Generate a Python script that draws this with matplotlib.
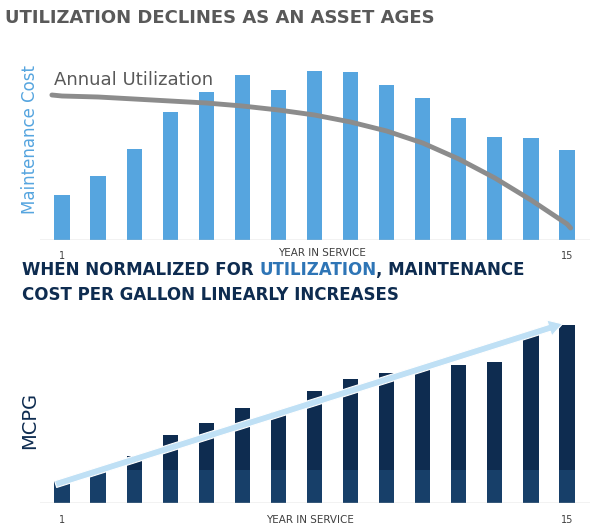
import matplotlib.pyplot as plt
import numpy as np

years = np.arange(1, 16)
maint_cost = [45, 64, 91, 128, 148, 165, 150, 169, 168, 155, 142, 122, 103, 102, 90]
util_x = [0.72, 1, 2, 3, 4, 5, 6, 7, 8, 9, 10, 11, 12, 13, 14, 15, 15.1]
util_y = [145, 144, 143, 141, 139, 137, 134, 130, 125, 118, 109, 97, 81, 62, 40, 16, 12]
mcpg = [22, 31, 47, 68, 80, 95, 91, 112, 124, 130, 135, 138, 141, 168, 178]

W, H = 597, 531
fig = plt.figure(figsize=(W / 100, H / 100), dpi=100)

unit = (567 - 62) / 14
x0, x1 = 40, 590
xlim = (1 - (62 - x0) / unit, 15 + (x1 - 567) / unit)

def add_ax(top, bottom):
    return fig.add_axes([x0 / W, 1 - bottom / H, (x1 - x0) / W, (bottom - top) / H])

# top chart
ax = add_ax(60, 240)
ax.bar(years, maint_cost, width=0.42, color='#56a5df')
ax.plot(util_x, util_y, color='#8c8c8c', lw=3.5, solid_capstyle='round', zorder=3)
ax.set_xlim(*xlim)
ax.set_ylim(0, 180)
ax.axis('off')
ax.axhline(0, color='#bfbfbf', lw=1)
ax.text(0.78, 160, 'Annual Utilization', fontsize=13, color='#595959', va='center')

fig.text(5 / W, 1 - 18 / H, 'UTILIZATION DECLINES AS AN ASSET AGES', fontsize=13,
         fontweight='bold', color='#595959', va='center')
fig.text(30 / W, 1 - 140 / H, 'Maintenance Cost', rotation=90, fontsize=12,
         color='#56a5df', va='center', ha='center')
fig.text(62 / W, 1 - 256 / H, '1', fontsize=7, color='#404040', ha='center', va='center')
fig.text(567 / W, 1 - 256 / H, '15', fontsize=7, color='#404040', ha='center', va='center')
fig.text(322 / W, 1 - 253 / H, 'YEAR IN SERVICE', fontsize=7.5, color='#404040', ha='center', va='center')

# bottom titles, pieces chained so they do not overlap
navy = '#0e2c50'
tfs = 12
t1 = fig.text(22 / W, 1 - 275 / H, 'WHEN NORMALIZED FOR ', fontsize=tfs, fontweight='bold',
              color=navy, va='baseline')
t2 = fig.text(0, 0, 'UTILIZATION', fontsize=tfs, fontweight='bold', color='#2e75b6', va='baseline')
t3 = fig.text(0, 0, ', MAINTENANCE', fontsize=tfs, fontweight='bold', color=navy, va='baseline')
renderer = fig.canvas.get_renderer()
bb1 = t1.get_window_extent(renderer)
t2.set_position((bb1.x1 / fig.bbox.width, t1.get_position()[1]))
bb2 = t2.get_window_extent(renderer)
t3.set_position((bb2.x1 / fig.bbox.width, t1.get_position()[1]))
fig.text(22 / W, 1 - 300 / H, 'COST PER GALLON LINEARLY INCREASES', fontsize=tfs, fontweight='bold',
         color=navy, va='baseline')

# bottom chart
ax2 = add_ax(318, 503)
ax2.bar(years, mcpg, width=0.42, color=navy)
ax2.bar(years, np.minimum(mcpg, 33), width=0.42, color='#173f69')
ax2.set_xlim(*xlim)
ax2.set_ylim(0, 185)
ax2.axis('off')
ax2.axhline(0, color='#bfbfbf', lw=1)
ax2.annotate('', xy=(14.95, 180), xytext=(0.75, 18),
             arrowprops=dict(arrowstyle='simple,head_width=1.2,head_length=1.0,tail_width=0.5',
                             fc='#bfe0f5', ec='white', lw=0.8, mutation_scale=10), zorder=5)

fig.text(30 / W, 1 - 420 / H, 'MCPG', rotation=90, fontsize=14, color=navy, va='center', ha='center')
fig.text(62 / W, 1 - 520 / H, '1', fontsize=7, color='#404040', ha='center', va='center')
fig.text(567 / W, 1 - 520 / H, '15', fontsize=7, color='#404040', ha='center', va='center')
fig.text(310 / W, 1 - 520 / H, 'YEAR IN SERVICE', fontsize=7.5, color='#404040', ha='center', va='center')

fig.savefig('out.png', dpi=100)
